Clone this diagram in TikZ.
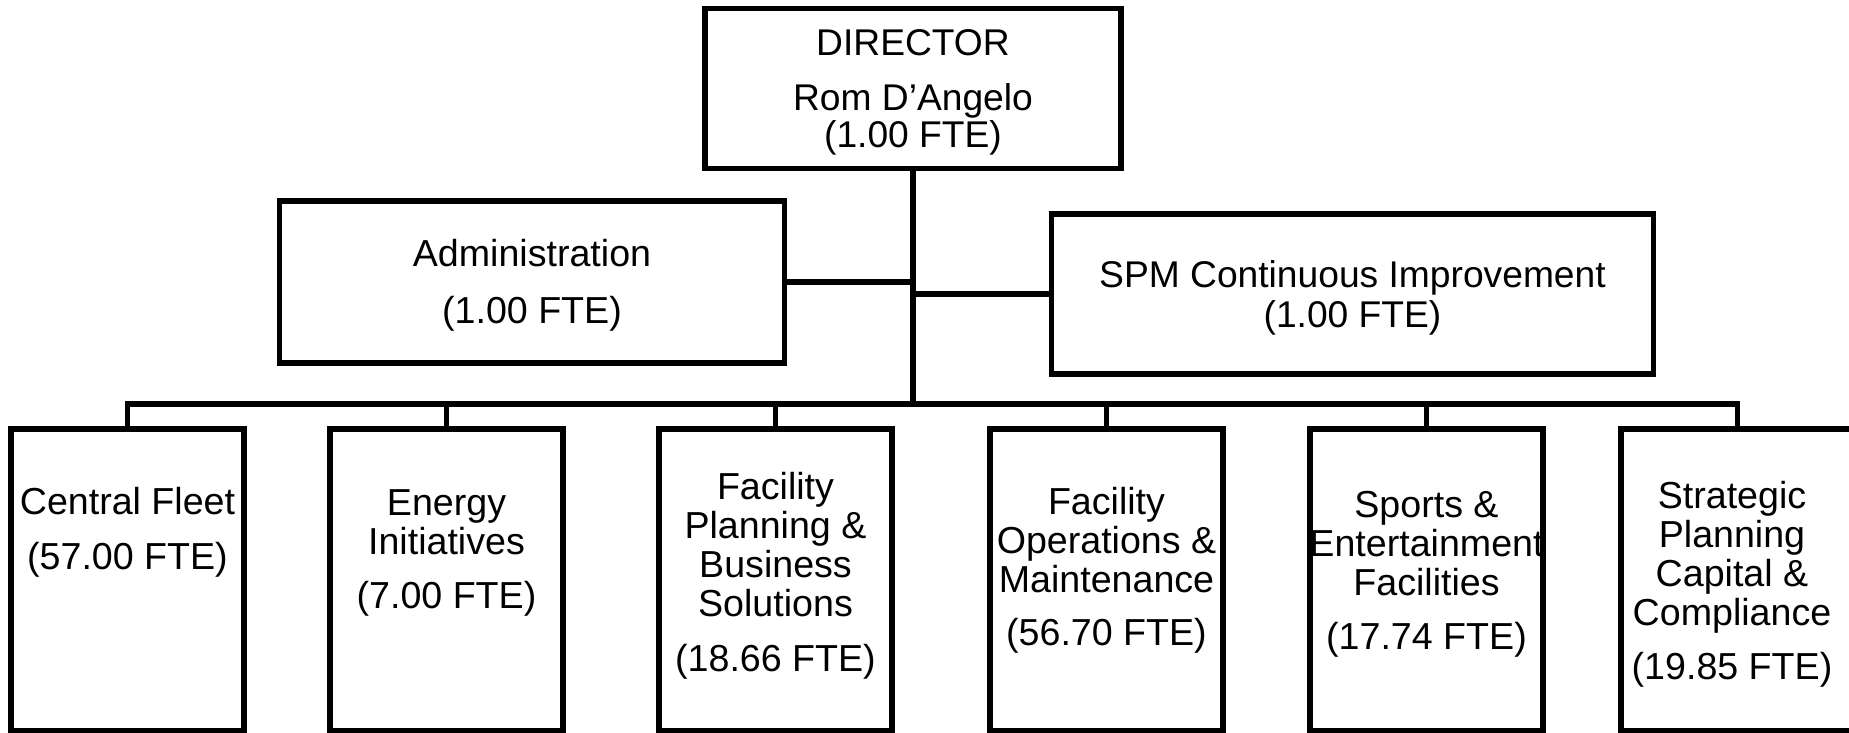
\documentclass[tikz,border=0pt]{standalone}
\usepackage{fontspec}
\setmainfont{Liberation Sans}
\begin{document}
\begin{tikzpicture}[x=0.5pt,y=-0.5pt,line width=2.7pt,
  orgbox/.style={draw,rectangle,inner sep=0pt,minimum width=116.5pt,minimum height=151pt},
  orgtxt/.style={align=center,inner sep=0pt,font=\fontsize{18.8}{19.5}\selectfont}]
\useasboundingbox (0,0) rectangle (1849,733);
\clip (0,0) rectangle (1849,733);

% director and staff
\node[draw,inner sep=0pt,minimum width=208pt,minimum height=80pt] (dir) at (913,88.5) {};
\node[align=center,inner sep=0pt,font=\fontsize{18.6}{18.3}\selectfont] (dirt) at (913,92)
  {DIRECTOR\\[9.4pt]Rom D’Angelo\\(1.00 FTE)};
\node[draw,inner sep=0pt,minimum width=252.5pt,minimum height=81pt] (adm) at (532,282) {};
\node[orgtxt] (admt) at (532,285.5) {Administration\\[8.8pt](1.00 FTE)};
\node[draw,inner sep=0pt,minimum width=301pt,minimum height=80pt] (spm) at (1352.5,294) {};
\node[orgtxt,font=\fontsize{18.6}{20}\selectfont] (spmt) at (1352.5,298)
  {SPM Continuous Improvement\\(1.00 FTE)};

% divisions
\foreach \nm/\cx in {cf/127.5,ei/446.5,fpbs/775.5,fom/1106.5,sef/1426.5,spcc/1737.5}
  \node[orgbox] (\nm) at (\cx,580) {};
\node[orgtxt] (cft) at (127.5,532) {Central Fleet\\[8pt](57.00 FTE)};
\node[orgtxt] (eit) at (446.5,553) {Energy\\Initiatives\\[7.5pt](7.00 FTE)};
\node[orgtxt] (fpbst) at (775.5,576) {Facility\\Planning \&\\Business\\Solutions\\[8pt](18.66 FTE)};
\node[orgtxt] (fomt) at (1106.5,570) {Facility\\Operations \&\\Maintenance\\[7pt](56.70 FTE)};
\node[orgtxt] (seft) at (1426.5,574) {Sports \&\\Entertainment\\Facilities\\[7.5pt](17.74 FTE)};
\node[orgtxt] (spcct) at (1732,584) {Strategic\\Planning\\Capital \&\\Compliance\\[7.5pt](19.85 FTE)};

% lines
\coordinate (bus) at (913,404);
\draw (dir.south) -- (bus);
\draw (adm.east) -- (adm.east -| dir.south);
\draw (spm.west) -- (spm.west -| dir.south);
\draw (cf.north) -- (cf.north |- bus) -- (spcc.north |- bus) -- (spcc.north);
\foreach \nm in {ei,fpbs,fom,sef}
  \draw (\nm.north) -- (\nm.north |- bus);
\end{tikzpicture}
\end{document}
